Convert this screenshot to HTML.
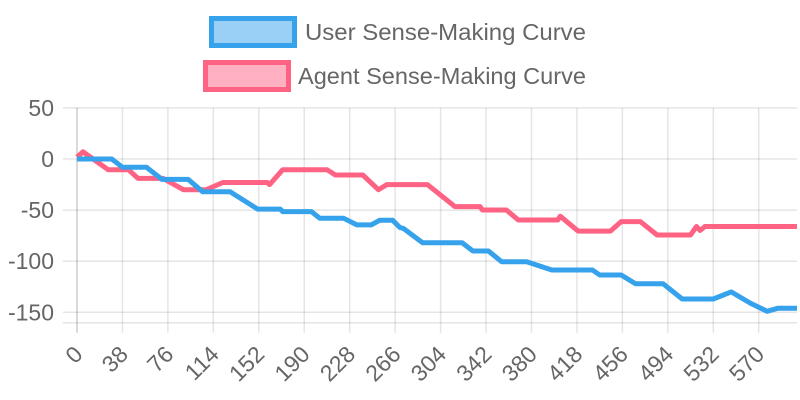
<!DOCTYPE html>
<html><head><meta charset="utf-8"><style>
body{margin:0;background:#fff;width:800px;height:400px;overflow:hidden}
svg{display:block;font-family:"Liberation Sans",sans-serif}
</style></head><body>
<svg id="chart" width="800" height="400">
<g id="grid"></g>
<g id="series"></g>
<g id="axes"></g>
<g>
 <g>
  <rect x="211.5" y="18.5" width="83" height="27" fill="rgba(54,162,235,0.5)" stroke="#36a2eb" stroke-width="5"/>
  <text x="305" y="40" font-size="23" fill="#666" textLength="281" lengthAdjust="spacingAndGlyphs">User Sense-Making Curve</text>
 </g>
 <g>
  <rect x="205.5" y="62.5" width="83" height="27" fill="rgba(255,99,132,0.5)" stroke="#ff6384" stroke-width="5"/>
  <text x="298" y="84" font-size="23" fill="#666" textLength="288" lengthAdjust="spacingAndGlyphs">Agent Sense-Making Curve</text>
 </g>
</g>
</svg>
<script>
const xTicks = [0,38,76,114,152,190,228,266,304,342,380,418,456,494,532,570];
const yTicks = [50,0,-50,-100,-150];
const userX = [0,29,38,58,71,93,105,128,151,170,172,196,203,223,234,246,253,264,270,273,289,322,331,344,355,376,397,431,437,455,467,490,506,532,547,563,577,586,602];
const userY = [0,0,-8,-8,-20,-20,-32,-32,-49,-49,-51.5,-51.5,-58,-58,-64.5,-64.5,-60,-60,-67,-68,-82,-82,-90,-90,-100.5,-100.5,-108.6,-108.6,-113.5,-113.5,-122,-122,-137,-137,-130,-141,-149,-146,-146];
const agentX = [0,5,26,43,51,72,89,108,122,159,161,172,209,216,239,252,259,293,316,337,339,359,369,402,404,419,446,455,471,485,513,518,521,525,602];
const agentY = [2,7,-10.5,-10.5,-19,-19,-30,-30,-23,-23,-25,-10.5,-10.5,-15.7,-15.7,-30,-25,-25,-46.6,-46.6,-49.9,-49.9,-59.7,-59.7,-56,-70.5,-70.5,-61.3,-61.3,-74.4,-74.4,-66,-70,-66,-66];

const X0=77, XPX=1.196, Y0=159, YPX=1.022, LEFT=63, RIGHT=797, TOP=107.7, BOT=322.7;
const sx = v => X0 + v*XPX;
const sy = v => Y0 - v*YPX;
const NS='http://www.w3.org/2000/svg';
function mk(tag, attrs, parent){const e=document.createElementNS(NS,tag);for(const k in attrs)e.setAttribute(k,attrs[k]);parent.appendChild(e);return e;}
const grid=document.getElementById('grid'), axes=document.getElementById('axes'), series=document.getElementById('series');

yTicks.forEach(t=>{
  const y=sy(t);
  const l=mk('line',{x1:LEFT,x2:RIGHT,y1:y,y2:y,stroke:'rgba(0,0,0,0.1)','stroke-width':1.5},grid);
  
  
  const tx=mk('text',{x:54,y:y+8,'font-size':23,fill:'#666','text-anchor':'end'},axes);
  tx.textContent=t;
  
  
});
const bl=mk('line',{x1:LEFT,x2:RIGHT,y1:BOT,y2:BOT,stroke:'rgba(0,0,0,0.1)','stroke-width':1.5},grid);


xTicks.forEach(t=>{
  const x=sx(t);
  const l=mk('line',{x1:x,x2:x,y1:TOP,y2:BOT+10,stroke:t===0?'rgba(0,0,0,0.2)':'rgba(0,0,0,0.1)','stroke-width':1.5},grid);
  
  
  const ax=x+7, ay=BOT+33;
  const tx=mk('text',{x:ax,y:ay,'font-size':23,fill:'#666','text-anchor':'end',transform:`rotate(-45 ${ax} ${ay})`},axes);
  tx.textContent=t;
  
  
});
function drawLine(xs,ys,color,name){
  const d=xs.map((v,i)=>(i?'L':'M')+sx(v).toFixed(1)+' '+sy(ys[i]).toFixed(1)).join(' ');
  const p=mk('path',{d:d,fill:'none',stroke:color,'stroke-width':5,'stroke-linejoin':'round'},series);
  
  
}
drawLine(agentX,agentY,'#ff6384','agent-curve-line');
drawLine(userX,userY,'#36a2eb','user-curve-line');
</script>
</body></html>
